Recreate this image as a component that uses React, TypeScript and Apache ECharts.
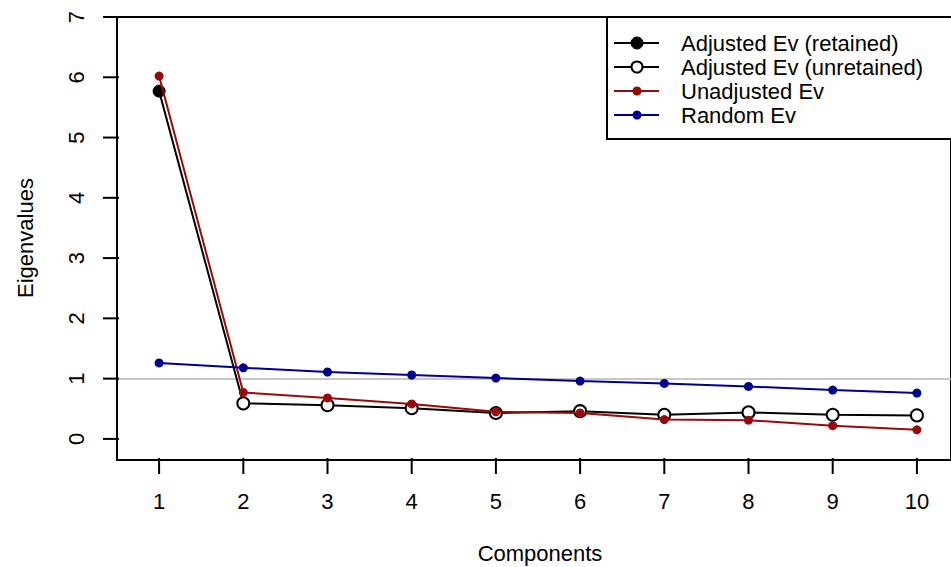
import React, { useEffect, useRef } from "react";
import * as echarts from "echarts";

const components = [1, 2, 3, 4, 5, 6, 7, 8, 9, 10];
const adjustedEv = [5.77, 0.59, 0.56, 0.51, 0.43, 0.46, 0.40, 0.44, 0.40, 0.39];
const unadjustedEv = [6.02, 0.77, 0.68, 0.58, 0.45, 0.43, 0.32, 0.31, 0.22, 0.15];
const randomEv = [1.26, 1.18, 1.11, 1.06, 1.01, 0.96, 0.92, 0.87, 0.81, 0.76];
const retainedCount = 1;
const yTicks = [0, 1, 2, 3, 4, 5, 6, 7];
const legendLabels = [
  "Adjusted Ev (retained)",
  "Adjusted Ev (unretained)",
  "Unadjusted Ev",
  "Random Ev",
];

const RED = "#990a0a";
const BLUE = "#00008f";
const FONT = "Liberation Sans, Arial, Helvetica, sans-serif";
const FS = 22;
const X_MIN = 0.5;
const X_MAX = 10.405;
const Y_MIN = -0.35;
const Y_MAX = 7;
const TICK_LEN = 14;

export default function App() {
  const ref = useRef<HTMLDivElement>(null);
  useEffect(() => {
    if (!ref.current) return;
    const chart = echarts.init(ref.current, null, { renderer: "svg" });
    const adjustedData = adjustedEv.map((v, i) => ({
      value: [components[i], v],
      itemStyle:
        i < retainedCount
          ? { color: "#000", borderColor: "#000", borderWidth: 1 }
          : { color: "#fff", borderColor: "#000", borderWidth: 2 },
    }));
    const legendY = [43, 67, 91, 115];
    const legendGraphics: any[] = [
      {
        type: "rect",
        shape: { x: 607, y: 17, width: 360, height: 122 },
        style: { fill: "#fff", stroke: "#000", lineWidth: 2 },
        z: 100,
      },
    ];
    const legendStyles = [
      { line: "#000", fill: "#000", stroke: "#000", r: 6, lw: 1 },
      { line: "#000", fill: "#fff", stroke: "#000", r: 5.5, lw: 2 },
      { line: RED, fill: RED, stroke: RED, r: 4.5, lw: 0 },
      { line: BLUE, fill: BLUE, stroke: BLUE, r: 4.5, lw: 0 },
    ];
    legendLabels.forEach((lab, i) => {
      const s = legendStyles[i];
      legendGraphics.push({
        type: "line",
        shape: { x1: 614, y1: legendY[i], x2: 659, y2: legendY[i] },
        style: { stroke: s.line, lineWidth: 2 },
        z: 101,
      });
      legendGraphics.push({
        type: "circle",
        shape: { cx: 637, cy: legendY[i], r: s.r },
        style: { fill: s.fill, stroke: s.stroke, lineWidth: s.lw },
        z: 102,
      });
      legendGraphics.push({
        type: "text",
        x: 681,
        y: legendY[i],
        style: {
          text: lab,
          fill: "#000",
          font: `${FS}px ${FONT}`,
          verticalAlign: "middle",
          align: "left",
        },
        z: 102,
      });
    });

    const axisLine = { show: true, onZero: false, lineStyle: { color: "#000", width: 2 } };
    const tickData = [
      ...components.map((c) => [c, Y_MIN, 0]),
      ...yTicks.map((t) => [X_MIN, t, 1]),
    ];

    chart.setOption({
      animation: false,
      backgroundColor: "#fff",
      grid: {
        left: 117,
        right: -3,
        top: 17,
        bottom: 107,
        show: true,
        borderColor: "#000",
        borderWidth: 2,
        containLabel: false,
      },
      xAxis: {
        type: "value",
        min: X_MIN,
        max: X_MAX,
        splitLine: { show: false },
        axisLine,
        axisTick: { show: false },
        axisLabel: {
          show: true,
          customValues: components,
          fontSize: FS,
          color: "#000",
          fontFamily: FONT,
          margin: 30,
        },
      },
      yAxis: {
        type: "value",
        min: Y_MIN,
        max: Y_MAX,
        splitLine: { show: false },
        axisLine,
        axisTick: { show: false },
        axisLabel: {
          show: true,
          customValues: yTicks,
          rotate: 90,
          fontSize: FS,
          color: "#000",
          fontFamily: FONT,
          margin: 30,
        },
      },
      graphic: [
        {
          type: "text",
          x: 540,
          y: 553,
          style: {
            text: "Components",
            fill: "#000",
            font: `${FS}px ${FONT}`,
            align: "center",
            verticalAlign: "middle",
          },
        },
        {
          type: "text",
          x: 25,
          y: 238,
          rotation: Math.PI / 2,
          style: {
            text: "Eigenvalues",
            fill: "#000",
            font: `${FS}px ${FONT}`,
            align: "center",
            verticalAlign: "middle",
          },
        },
        ...legendGraphics,
      ],
      series: [
        {
          name: "ticks",
          type: "custom",
          clip: false,
          silent: true,
          data: tickData,
          renderItem: (params: any, api: any) => {
            const p = api.coord([api.value(0), api.value(1)]);
            const kind = api.value(2);
            const shape =
              kind === 0
                ? { x1: p[0], y1: p[1] - 2, x2: p[0], y2: p[1] + TICK_LEN }
                : { x1: p[0] + 2, y1: p[1], x2: p[0] - TICK_LEN, y2: p[1] };
            return {
              type: "line",
              shape,
              style: { stroke: "#000", lineWidth: 2 },
            };
          },
          z: 10,
        },
        {
          name: "Adjusted Ev",
          type: "line",
          data: adjustedData,
          symbol: "circle",
          symbolSize: 12,
          lineStyle: { color: "#000", width: 2 },
          z: 3,
          markLine: {
            silent: true,
            symbol: "none",
            label: { show: false },
            lineStyle: { color: "#b4b4b4", width: 1.5, type: "solid" },
            data: [{ yAxis: 1 }],
            z: 1,
          },
        },
        {
          name: "Unadjusted Ev",
          type: "line",
          data: unadjustedEv.map((v, i) => [components[i], v]),
          symbol: "circle",
          symbolSize: 9,
          itemStyle: { color: RED },
          lineStyle: { color: RED, width: 2 },
          z: 4,
        },
        {
          name: "Random Ev",
          type: "line",
          data: randomEv.map((v, i) => [components[i], v]),
          symbol: "circle",
          symbolSize: 9,
          itemStyle: { color: BLUE },
          lineStyle: { color: BLUE, width: 2 },
          z: 5,
        },
      ],
    });
    return () => chart.dispose();
  }, []);
  return (
    <div
      ref={ref}
      style={{ position: "fixed", left: 0, top: 0, width: 951, height: 567 }}
    />
  );
}
